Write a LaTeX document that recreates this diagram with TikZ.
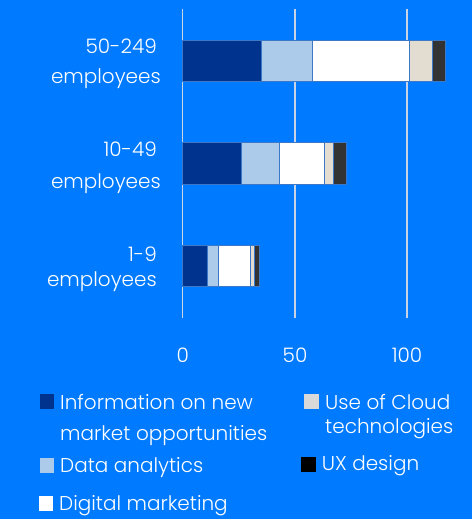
\documentclass[tikz,border=0pt]{standalone}
\usepackage{fontspec}
\IfFontExistsTF{Poppins Light}{\setmainfont{Poppins Light}}{\setmainfont{Poppins}}
\definecolor{bg}{RGB}{0,122,255}
\definecolor{navy}{RGB}{0,51,141}
\definecolor{lblue}{RGB}{172,202,234}
\definecolor{beige}{RGB}{227,220,209}
\definecolor{dgray}{RGB}{51,51,51}
\definecolor{cloudsq}{RGB}{217,217,217}
\definecolor{gridc}{RGB}{200,212,230}
\definecolor{edgec}{RGB}{60,120,200}
\tikzset{
  seg/.style={draw=edgec, line width=0.6pt},
  gridline/.style={draw=gridc, line width=1.4pt},
  lbl/.style={text=white, inner sep=0pt, font=\fontsize{20}{24}\selectfont},
  sq/.style={inner sep=0pt, minimum size=14.7pt, draw=none},
}
\begin{document}
\begin{tikzpicture}[x=1pt,y=-1pt]
\useasboundingbox[fill=bg] (0,0) rectangle (472,519);
% gridlines
\foreach \gx/\gn in {182.7/g0,295/g50,407/g100}{
  \coordinate (\gn top) at (\gx,9.5);
  \coordinate (\gn bot) at (\gx,317.7);
  \draw[gridline] (\gn top) -- (\gn bot);
}
% bars
\newcommand{\stackbar}[7]{%
  \fill[navy] (182.7,#1) rectangle (#3,#2);
  \draw[seg] (182.7,#1) rectangle (#3,#2);
  \fill[lblue] (#3,#1) rectangle (#4,#2);
  \draw[seg] (#3,#1) rectangle (#4,#2);
  \fill[white] (#4,#1) rectangle (#5,#2);
  \draw[seg] (#4,#1) rectangle (#5,#2);
  \fill[beige] (#5,#1) rectangle (#6,#2);
  \draw[seg] (#5,#1) rectangle (#6,#2);
  \fill[dgray] (#6,#1) rectangle (#7,#2);
  \draw[seg] (#6,#1) rectangle (#7,#2);
}
\stackbar{40}{81}{261.3}{312.7}{409.3}{432}{445.3}
\stackbar{142.7}{184}{241}{279.3}{324}{333}{346.3}
\stackbar{245.7}{286.7}{207}{218.7}{250}{254.3}{259}
% category labels
\node[lbl, anchor=base east] (c1a) at (157,53) {50-249};
\node[lbl, anchor=base east] (c1b) at (161,84) {employees};
\node[lbl, anchor=base east] (c2a) at (157,156.7) {10-49};
\node[lbl, anchor=base east] (c2b) at (161,188) {employees};
\node[lbl, anchor=base east] (c3a) at (157,261) {1-9};
\node[lbl, anchor=base east] (c3b) at (157,286.7) {employees};
% axis labels
\node[lbl, anchor=base] (t0) at (182.7,362.5) {0};
\node[lbl, anchor=base] (t50) at (295,362.5) {50};
\node[lbl, anchor=base] (t100) at (407,362.5) {100};
% legend
\node[sq, fill=navy, anchor=north west] (s1) at (39.3,394) {};
\node[lbl, anchor=base west] (l1a) at (60,409) {Information on new};
\node[lbl, anchor=base west] (l1b) at (60,440) {market opportunities};
\node[sq, fill=lblue, anchor=north west] (s2) at (39.3,458) {};
\node[lbl, anchor=base west] (l2) at (60,472.7) {Data analytics};
\node[sq, fill=white, anchor=north west] (s3) at (38.3,496) {};
\node[lbl, anchor=base west] (l3) at (59,510.5) {Digital marketing};
\node[sq, fill=cloudsq, anchor=north west] (s4) at (304,394) {};
\node[lbl, anchor=base west] (l4a) at (325,409) {Use of Cloud};
\node[lbl, anchor=base west] (l4b) at (325,433.3) {technologies};
\node[sq, fill=black, anchor=north west] (s5) at (301,456.7) {};
\node[lbl, anchor=base west] (l5) at (321.7,470.7) {UX design};
\end{tikzpicture}
\end{document}
